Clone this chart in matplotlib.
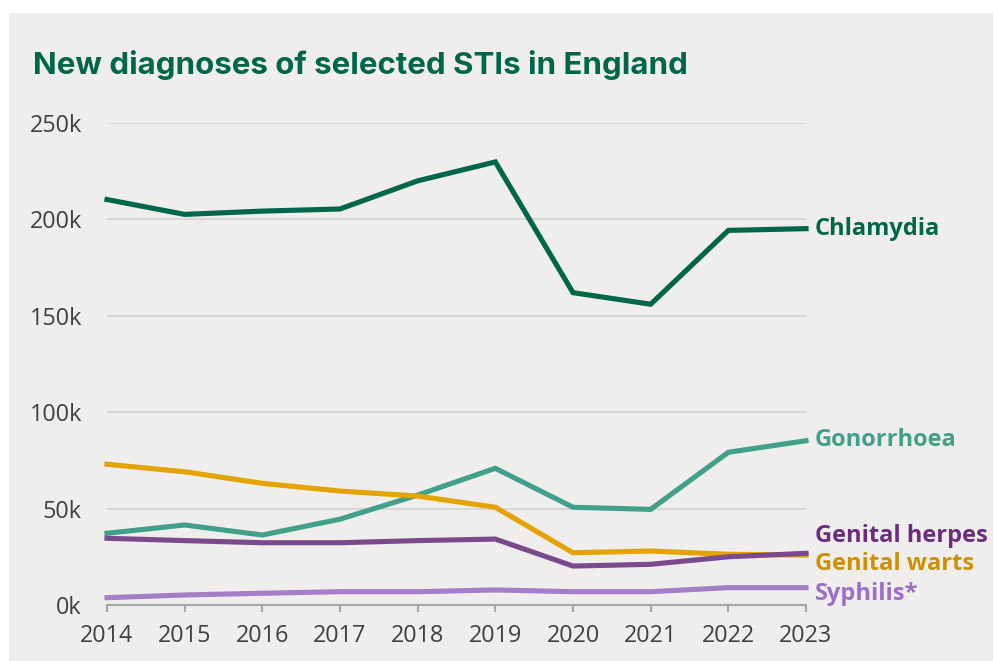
import matplotlib.pyplot as plt
import matplotlib.patches as mpatches

# data
years = [2014, 2015, 2016, 2017, 2018, 2019, 2020, 2021, 2022, 2023]
chlamydia = [210300, 202600, 204300, 205400, 220000, 229800, 162000, 156000, 194300, 195200]
gonorrhoea = [37200, 41500, 36300, 44500, 57000, 70900, 50700, 49600, 79200, 85200]
genital_herpes = [34600, 33400, 32300, 32300, 33400, 34200, 20200, 21100, 25000, 26800]
genital_warts = [73000, 69100, 63100, 59100, 56500, 50700, 27100, 28000, 26300, 25900]
syphilis = [3800, 5200, 6100, 6900, 6900, 7800, 6900, 6900, 9000, 9000]

series = [
    ("Chlamydia", chlamydia, "#00664a", "#00664a", -6),
    ("Gonorrhoea", gonorrhoea, "#40a08a", "#40a08a", -5),
    ("Genital warts", genital_warts, "#e3a300", "#cf9000", -15),
    ("Genital herpes", genital_herpes, "#7a4a8c", "#6b2d80", 11),
    ("Syphilis*", syphilis, "#a47ec9", "#9b6fc6", -12),
]

bg = "#efeeec"
fig = plt.figure(figsize=(9.93, 6.61), dpi=100, facecolor="white")
fig.patches.append(mpatches.Rectangle((9 / 993, 0), 1, 1 - 13 / 661,
                                      transform=fig.transFigure,
                                      facecolor=bg, edgecolor="none", zorder=-10))

ax = fig.add_axes([107 / 993, 1 - 605 / 661, (806 - 107) / 993, (605 - 123) / 661])
ax.set_facecolor("none")
ax.set_zorder(5)

for name, vals, col, lcol, dy in series:
    ax.plot(years, vals, color=col, linewidth=3.7, solid_joinstyle="miter",
            clip_on=False, zorder=3)
    ax.annotate(name, xy=(years[-1], vals[-1]), xytext=(9, dy),
                textcoords="offset pixels", color=lcol, fontsize=17,
                fontweight="bold", family="Open Sans", va="baseline",
                ha="left", annotation_clip=False)

ax.set_xlim(years[0], years[-1])
ax.set_ylim(0, 250000)
ax.set_xticks(years)
ax.set_xticklabels([str(y) for y in years])
yt = [0, 50000, 100000, 150000, 200000, 250000]
ax.set_yticks(yt)
ax.set_yticklabels([f"{v // 1000}k" for v in yt])

for s in ["top", "right", "left"]:
    ax.spines[s].set_visible(False)
ax.spines["bottom"].set_color("#a6a6a6")
ax.spines["bottom"].set_linewidth(1.5)
ax.yaxis.grid(True, color="#d9d8d6", linewidth=1.6)
ax.set_axisbelow(True)
ax.tick_params(axis="y", length=0, pad=18, labelsize=16.8, labelcolor="#404040")
ax.tick_params(axis="x", length=5, width=1.5, color="#a6a6a6", pad=9,
               labelsize=16.8, labelcolor="#404040")
for lab in ax.get_xticklabels() + ax.get_yticklabels():
    lab.set_family("Open Sans")

fig.text(33 / 993, 1 - 74 / 661, "New diagnoses of selected STIs in England",
         color="#00664a", fontsize=22.5, fontweight="bold", family="Inter",
         ha="left", va="baseline")

fig.savefig("out.png", dpi=100, facecolor=fig.get_facecolor())
